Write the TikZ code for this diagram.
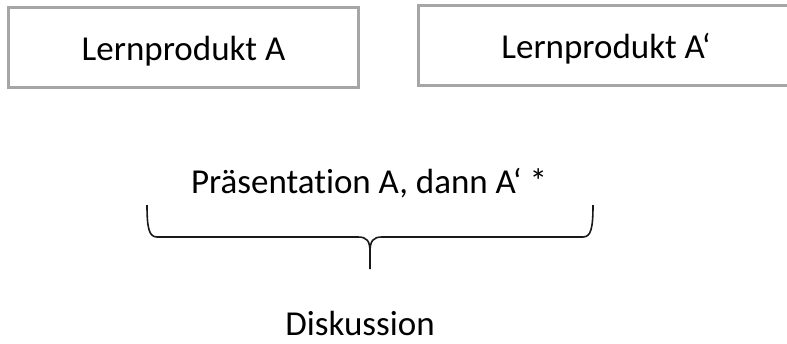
\documentclass[tikz,border=0pt]{standalone}
\usepackage{fontspec}
\setmainfont[RawFeature={-liga;-clig}]{Carlito}
\begin{document}
\begin{tikzpicture}[x=1pt,y=-1pt,
  prodbox/.style={draw=black!35, line width=3pt, minimum width=350pt, minimum height=80pt,
    inner sep=0pt, font=\fontsize{35}{42}\selectfont, text height=25pt, text depth=0pt},
  label/.style={font=\fontsize{35}{42}\selectfont, inner sep=0pt, anchor=base},
  brace/.style={line width=1.6pt, black!90}]
\useasboundingbox (0,0) rectangle (787,343);
\clip (0,0) rectangle (787,343);
% the two learning products
\node[prodbox] (prodA) at (183.5,47.8) {Lernprodukt A};
\node[prodbox, minimum width=376pt] (prodB) at (606,45.7) {Lernprodukt A‘};
% presentation line and brace
\node[label] (pres) at (369,193) {Präsentation A, dann A‘ *};
\coordinate (bl) at (147,205);
\coordinate (br) at (593,205);
\coordinate (tip) at (370,269);
\draw[brace] (bl) .. controls (147,228) and (149,237) .. (157,237) -- (358,237)
  .. controls (367,237) and (370,241) .. (370,252) -- (tip);
\draw[brace] (br) .. controls (593,228) and (591,237) .. (583,237) -- (382,237)
  .. controls (373,237) and (370,241) .. (370,252);
% discussion
\node[label] (disc) at (360,335) {Diskussion};
\end{tikzpicture}
\end{document}
